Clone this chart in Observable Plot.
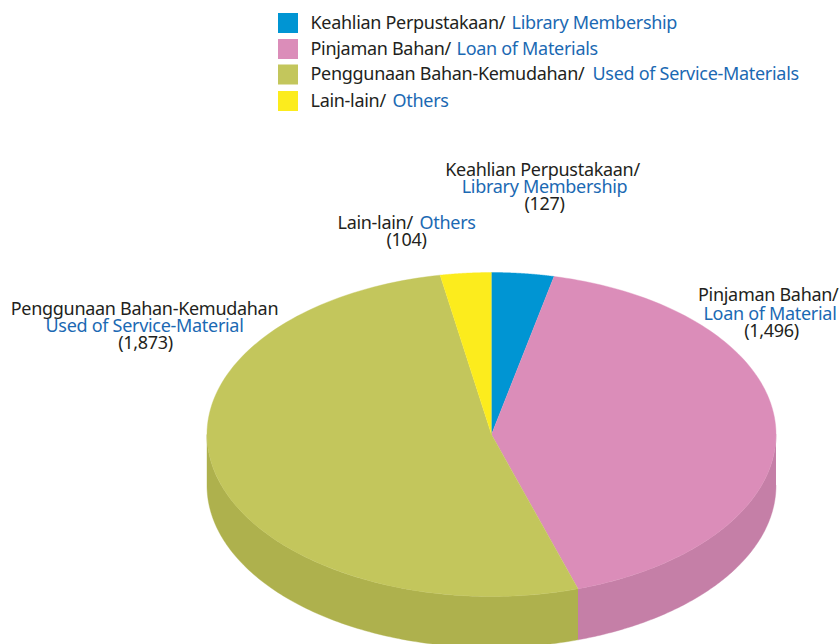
<!DOCTYPE html>
<html>
<head>
<meta charset="utf-8">
<script src="https://cdn.jsdelivr.net/npm/d3@7"></script>
<script src="https://cdn.jsdelivr.net/npm/@observablehq/plot@0.6"></script>
<style>html,body{margin:0;padding:0;background:#fff;overflow:hidden}svg{display:block}</style>
</head>
<body>
<div id="chart"></div>
<script>
const categories = ["Keahlian Perpustakaan", "Pinjaman Bahan", "Penggunaan Bahan-Kemudahan", "Lain-lain"];
const values = [127, 1496, 1873, 104];
const topColors = ["#0095d3", "#db8db9", "#c3c65c", "#fcec1d"];
const sideColors = ["#0083b9", "#c57fa7", "#aeb14d", "#ddd019"];

const legendBlack = ["Keahlian Perpustakaan/", "Pinjaman Bahan/", "Penggunaan Bahan-Kemudahan/", "Lain-lain/"];
const legendBlue = ["Library Membership", "Loan of Materials", "Used of Service-Materials", "Others"];
const legendBlueX = [511, 456, 592, 392];
const legendRows = [13, 39, 64.5, 91];

const blackLabels = [
  {t: "Keahlian Perpustakaan/", x: 542, y: 175, a: "middle"},
  {t: "(127)", x: 544, y: 209, a: "middle"},
  {t: "Lain-lain/", x: 337, y: 228, a: "start"},
  {t: "(104)", x: 406, y: 245, a: "middle"},
  {t: "Penggunaan Bahan-Kemudahan", x: 144, y: 314, a: "middle"},
  {t: "(1,873)", x: 145, y: 348, a: "middle"},
  {t: "Pinjaman Bahan/", x: 838, y: 300, a: "end"},
  {t: "(1,496)", x: 771, y: 336, a: "middle"}
];
const blueLabels = [
  {t: "Library Membership", x: 544, y: 192, a: "middle"},
  {t: "Others", x: 419, y: 228, a: "start"},
  {t: "Used of Service-Material", x: 144, y: 331, a: "middle"},
  {t: "Loan of Material", x: 836, y: 319, a: "end"}
];

const font = "Noto Sans";
const ink = "#231f20";
const blue = "#1b69b3";
const size = 18;

// Ellipse of the pie's top face and thickness of its wall
const cx = 491, cy = 434, rx = 284.5, ry = 162, depth = 51;
const at = (a, dy = 0) => ({x: cx + rx * Math.sin(a), y: cy + dy - ry * Math.cos(a)});
const arcs = d3.pie().sort(null)(values);
const steps = (a0, a1) => d3.range(0, 121).map(i => a0 + (a1 - a0) * i / 120);

const topFace = arc => [{x: cx, y: cy}].concat(steps(arc.startAngle, arc.endAngle).map(a => at(a)));
const wall = arc => {
  const a0 = Math.max(arc.startAngle, Math.PI / 2);
  const a1 = Math.min(arc.endAngle, 3 * Math.PI / 2);
  if (a0 >= a1) return [];
  const s = steps(a0, a1);
  return s.map(a => at(a)).concat(s.slice().reverse().map(a => at(a, depth)));
};

const marks = [];
arcs.forEach((arc, i) => {
  const w = wall(arc);
  if (w.length) marks.push(Plot.line(w, {x: "x", y: "y", fill: sideColors[i], stroke: sideColors[i], strokeWidth: 0.4}));
});
arcs.forEach((arc, i) => {
  marks.push(Plot.line(topFace(arc), {x: "x", y: "y", fill: topColors[i], stroke: topColors[i], strokeWidth: 0.4}));
});

// Legend
marks.push(Plot.rect(categories.map((c, i) => ({c, y1: legendRows[i], y2: legendRows[i] + 20, x1: 278, x2: 298, color: topColors[i]})),
  {x1: "x1", x2: "x2", y1: "y1", y2: "y2", fill: "color"}));
const textOpts = {fontFamily: font, fontSize: size, lineAnchor: "bottom"};
marks.push(Plot.text(legendBlack.map((t, i) => ({t, y: legendRows[i] + 15})), {...textOpts, x: () => 310, y: "y", text: "t", textAnchor: "start", fill: ink}));
marks.push(Plot.text(legendBlue.map((t, i) => ({t, x: legendBlueX[i], y: legendRows[i] + 15})), {...textOpts, x: "x", y: "y", text: "t", textAnchor: "start", fill: blue}));

// Slice labels
for (const a of ["start", "middle", "end"]) {
  marks.push(Plot.text(blackLabels.filter(d => d.a === a), {...textOpts, x: "x", y: "y", text: "t", textAnchor: a, fill: ink}));
  marks.push(Plot.text(blueLabels.filter(d => d.a === a), {...textOpts, x: "x", y: "y", text: "t", textAnchor: a, fill: blue}));
}

const chart = Plot.plot({
  width: 839, height: 644,
  margin: 0,
  x: {domain: [0, 839], range: [0, 839], axis: null},
  y: {domain: [0, 644], range: [0, 644], axis: null},
  style: {background: "#fff", letterSpacing: "-0.3px"},
  marks
});
document.getElementById("chart").append(chart);
</script>
</body>
</html>
